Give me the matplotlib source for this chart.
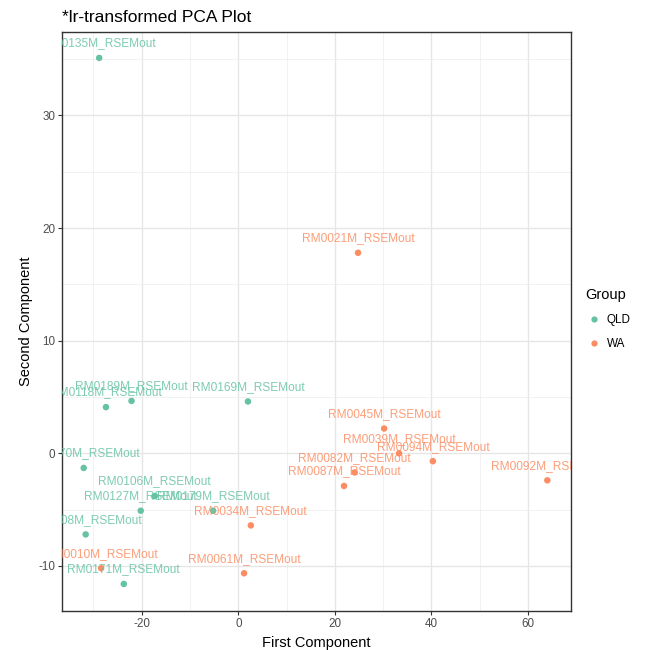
import numpy as np
import matplotlib
matplotlib.use("Agg")
import matplotlib.pyplot as plt
from matplotlib.lines import Line2D
from matplotlib.ticker import MultipleLocator

plt.rcParams['font.family'] = ['Liberation Sans', 'DejaVu Sans']
plt.rcParams['axes.unicode_minus'] = False

# sample names, PCA scores and group
samples = ['RM0135M', 'RM0189M', 'RM0118M', 'RM0169M', 'RM0170M', 'RM0106M',
           'RM0127M', 'RM0179M', 'RM0108M', 'RM0171M',
           'RM0021M', 'RM0045M', 'RM0039M', 'RM0094M', 'RM0082M', 'RM0087M',
           'RM0092M', 'RM0034M', 'RM0061M', 'RM0010M']
pc1 = [-28.8, -22.1, -27.4, 2.0, -32.0, -17.3, -20.2, -5.2, -31.6, -23.7,
       24.8, 30.2, 33.3, 40.3, 24.1, 21.9, 64.0, 2.6, 1.2, -28.4]
pc2 = [35.1, 4.65, 4.1, 4.6, -1.3, -3.8, -5.1, -5.1, -7.2, -11.6,
       17.8, 2.2, 0.0, -0.7, -1.7, -2.9, -2.4, -6.4, -10.65, -10.2]
groups = ['QLD'] * 10 + ['WA'] * 10

colors = {'QLD': '#66C2A5', 'WA': '#FC8D62'}

fig = plt.figure(figsize=(6.46, 6.5), dpi=100)
ax = fig.add_axes([62 / 646, 1 - 611 / 650, (571 - 62) / 646, (611 - 32) / 650])

for g in ['QLD', 'WA']:
    idx = [i for i, gg in enumerate(groups) if gg == g]
    ax.scatter([pc1[i] for i in idx], [pc2[i] for i in idx], s=22,
               color=colors[g], edgecolors='none', zorder=3)

for name, x, y, g in zip(samples, pc1, pc2, groups):
    ax.annotate(name + '_RSEMout', (x, y), xytext=(0, 10.5), textcoords='offset points',
                ha='center', va='center', fontsize=8.6, color=colors[g], alpha=0.85,
                clip_on=True, zorder=4)

ax.set_xlim(-36.5, 68.9)
ax.set_ylim(-14.0, 37.4)
ax.xaxis.set_major_locator(MultipleLocator(20))
ax.xaxis.set_minor_locator(MultipleLocator(10))
ax.yaxis.set_major_locator(MultipleLocator(10))
ax.yaxis.set_minor_locator(MultipleLocator(5))
ax.grid(which='major', color='#E6E6E6', linewidth=1.0)
ax.grid(which='minor', color='#EDEDED', linewidth=0.5)
ax.set_axisbelow(True)
for sp in ax.spines.values():
    sp.set_color('#333333')
    sp.set_linewidth(1.0)
ax.tick_params(which='major', length=3, width=0.8, color='#333333',
               labelsize=8.4, labelcolor='#4D4D4D', pad=2)
ax.tick_params(which='minor', length=0)

ax.set_xlabel('First Component', fontsize=10.5, labelpad=4)
ax.set_ylabel('Second Component', fontsize=10.5, labelpad=4)
fig.text(62 / 646, 1 - 17 / 650, '*lr-transformed PCA Plot', fontsize=12.5,
         ha='left', va='center')

handles = [Line2D([], [], marker='o', linestyle='none', markersize=4.5,
                  markerfacecolor=colors[g], markeredgecolor='none', label=g)
           for g in ['QLD', 'WA']]
ax.legend(handles=handles, title='Group', loc='upper left', frameon=False,
          bbox_to_anchor=(575 / 646, 1 - 278 / 650), bbox_transform=fig.transFigure,
          fontsize=8.4, title_fontsize=10.5, alignment='left',
          handletextpad=0.3, labelspacing=1.0, handlelength=1.5)

fig.savefig('out.png', dpi=100)
